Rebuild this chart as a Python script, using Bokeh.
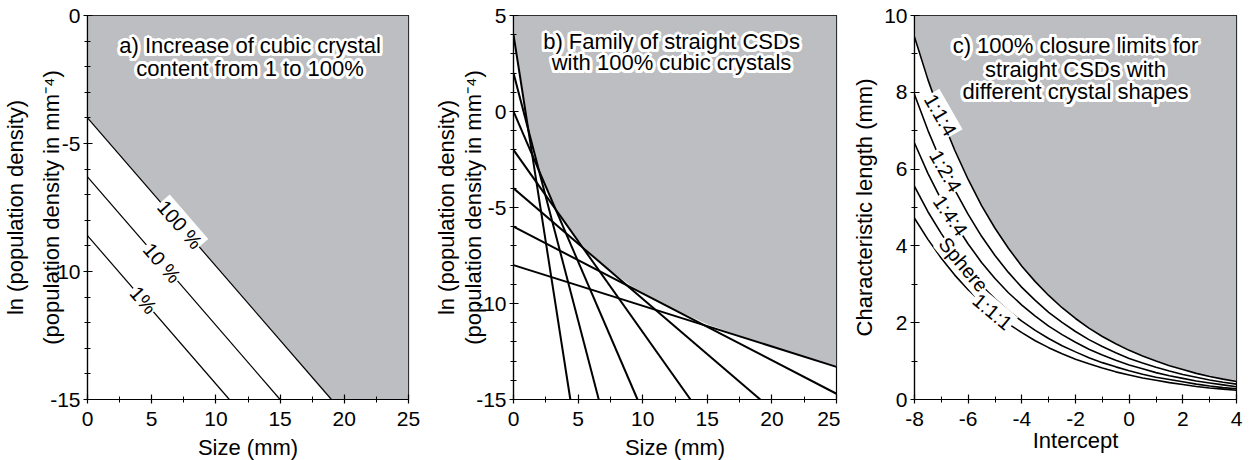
import numpy as np
from bokeh.plotting import figure
from bokeh.models import FixedTicker, Label
from bokeh.layouts import row
from bokeh.embed import file_html
from bokeh.resources import INLINE

FONT = "Liberation Sans"
GRAY = "#bdbec1"
H = 468

# ---------------- data ----------------
# panel a: straight CSDs for 1 %, 10 % and 100 % cubic crystal content
a_pct_labels = ["1%", "10 %", "100 %"]
a_intercepts = [-8.6, -6.3, -4.0]          # ln(n) at size 0
a_end_sizes = [11.05, 15.0, 19.0]           # size where line reaches -15
a_label_sizes = [4.35, 5.8, 7.2]
a_xticks = [0, 5, 10, 15, 20, 25]
a_xminor = [2.5, 7.5, 12.5, 17.5, 22.5]
a_yticks = [0, -5, -10, -15]
a_yminor = list(range(-15, 1))

# panel b: family of straight CSDs with 100 % cubic crystals
b_intercepts = [4, 2, 0, -2, -4, -6, -8]
b_end_sizes = [4.4, 6.6, 9.6, 13.7, 19.1, 25.0, 25.0]
b_end_values = [-15, -15, -15, -15, -15, -14.7, -13.3]
b_env_sizes = [0, 0.94, 1.2, 1.55, 2.0, 2.56, 3.2, 4.21, 5.5, 6.95, 9.0, 11.46, 15.0, 18.89, 25.0]
b_env_values = [4.0, 0.0, -0.98, -2.0, -3.02, -4.0, -4.9, -6.0, -7.07, -8.0, -9.04, -10.0, -11.08, -12.0, -13.3]
b_xticks = [0, 5, 10, 15, 20, 25]
b_xminor = [2.5, 7.5, 12.5, 17.5, 22.5]
b_yticks = [5, 0, -5, -10, -15]
b_yminor = list(range(-15, 6))

# panel c: 100 % closure limits for different crystal shapes
c_intercept = [-8, -7.5, -7, -6.5, -6, -5.5, -5, -4.5, -4, -3.5, -3, -2.5, -2,
               -1.5, -1, -0.5, 0, 0.5, 1, 1.5, 2, 2.5, 3, 3.5, 4]
c_len_114 = [9.44, 8.33, 7.35, 6.49, 5.73, 5.05, 4.46, 3.94, 3.47, 3.07, 2.71, 2.39, 2.11,
             1.86, 1.64, 1.45, 1.28, 1.13, 1.00, 0.88, 0.78, 0.68, 0.60, 0.53, 0.47]
c_len_124 = [7.94, 7.01, 6.18, 5.46, 4.82, 4.25, 3.75, 3.31, 2.92, 2.58, 2.27, 2.01, 1.77,
             1.56, 1.38, 1.22, 1.07, 0.95, 0.84, 0.74, 0.65, 0.58, 0.51, 0.45, 0.40]
c_len_144 = [6.68, 5.89, 5.20, 4.59, 4.05, 3.57, 3.15, 2.78, 2.46, 2.17, 1.91, 1.69, 1.49,
             1.31, 1.16, 1.02, 0.90, 0.80, 0.70, 0.62, 0.55, 0.48, 0.43, 0.38, 0.33]
c_len_sphere = [5.55, 4.89, 4.32, 3.81, 3.36, 2.97, 2.62, 2.31, 2.04, 1.80, 1.59, 1.40, 1.24,
                1.09, 0.96, 0.85, 0.75, 0.66, 0.58, 0.52, 0.46, 0.40, 0.35, 0.31, 0.28]
c_len_111 = [4.72, 4.17, 3.68, 3.24, 2.86, 2.53, 2.23, 1.97, 1.74, 1.53, 1.35, 1.19, 1.05,
             0.93, 0.82, 0.72, 0.64, 0.56, 0.50, 0.44, 0.39, 0.34, 0.30, 0.27, 0.24]
c_shape_labels = ["1:1:4", "1:2:4", "1:4:4", "Sphere", "1:1:1"]
c_label_intercepts = [-7.03, -6.84, -6.66, -6.17, -5.09]
c_label_angles_deg = [-60, -60, -55, -50, -40]
c_xticks = [-8, -6, -4, -2, 0, 2, 4]
c_xminor = list(range(-8, 5))
c_yticks = [0, 2, 4, 6, 8, 10]
c_yminor = list(range(0, 11))


# ---------------- helpers ----------------
def hyphen_labels(ticks):
    return {t: str(t) for t in ticks if t < 0}


def make_fig(width, xr, yr, bl, br, bt, bb, xt, xm, yt, ym, xstand):
    p = figure(width=width, height=H, x_range=xr, y_range=yr,
               output_backend="svg", toolbar_location=None,
               min_border_left=bl, min_border_right=br,
               min_border_top=bt, min_border_bottom=bb)
    p.grid.visible = False
    p.outline_line_color = "black"
    p.outline_line_width = 1.2
    p.background_fill_color = "white"
    p.border_fill_color = "white"
    p.xaxis.ticker = FixedTicker(ticks=xt, minor_ticks=xm)
    p.yaxis.ticker = FixedTicker(ticks=yt, minor_ticks=ym)
    p.xaxis.major_label_overrides = hyphen_labels(xt)
    p.yaxis.major_label_overrides = hyphen_labels(yt)
    for ax in (p.xaxis[0], p.yaxis[0]):
        ax.axis_line_color = "black"
        ax.axis_line_width = 1.2
        ax.major_tick_line_color = "black"
        ax.major_tick_line_width = 1.2
        ax.minor_tick_line_color = "black"
        ax.minor_tick_line_width = 1
        ax.major_tick_in = 5
        ax.major_tick_out = 4
        ax.minor_tick_in = 3
        ax.minor_tick_out = 3
        ax.major_label_text_font = FONT
        ax.major_label_text_font_size = "21px"
        ax.major_label_text_color = "black"
        ax.axis_label_text_font = FONT
        ax.axis_label_text_font_size = "22px"
        ax.axis_label_text_font_style = "normal"
        ax.axis_label_text_color = "black"
    p.xaxis.major_label_standoff = xstand
    p.yaxis.major_label_standoff = 3
    return p


def add_text(p, x, y, text, size="21px", angle=0.0, color="black", bg=None, pad=0,
             xo=0, yo=0):
    kw = dict(x=x, y=y, text=text, angle=angle, text_font=FONT, text_font_size=size,
              text_color=color, text_align="center", text_baseline="middle",
              x_offset=xo, y_offset=yo)
    if bg is not None:
        kw.update(background_fill_color=bg, padding=pad)
    p.add_layout(Label(**kw))


def halo_text(p, x, y, text, size="22px", r=3.0):
    for k in range(16):
        t = 2 * np.pi * k / 16
        add_text(p, x, y, text, size=size, color="white",
                 xo=r * np.cos(t), yo=r * np.sin(t))
    add_text(p, x, y, text, size=size)


# ---------------- panel a ----------------
pa = make_fig(420, (0, 25), (-15, 0), 86, 12, 15, H - 15 - 384,
              a_xticks, a_xminor, a_yticks, a_yminor, 8)
pxa = 322 / 25.0
pya = 384 / 15.0
pa.varea(x=[0, a_end_sizes[-1], 25], y1=[a_intercepts[-1], -15, -15], y2=[0, 0, 0],
         fill_color=GRAY)
for b0, xe in zip(a_intercepts, a_end_sizes):
    pa.line([0, xe], [b0, -15], line_color="black", line_width=1.2)
for lab, b0, xe, xl in zip(a_pct_labels, a_intercepts, a_end_sizes, a_label_sizes):
    s = (-15 - b0) / xe
    ang = np.arctan(s * pya / pxa)
    add_text(pa, xl, b0 + s * xl, lab, size="20px", angle=ang, bg="white", pad=1)
halo_text(pa, 12.66, -1.19, "a) Increase of cubic crystal")
halo_text(pa, 12.66, -2.06, "content from 1 to 100%")
pa.yaxis.axis_label = "ln (population density)\n(population density in mm⁻⁴)"
pa.yaxis.axis_label_text_line_height = 1.44
pa.yaxis.axis_label_standoff = -17
pa.xaxis.axis_label = "Size (mm)"
pa.xaxis.axis_label_standoff = 6

# ---------------- panel b ----------------
pb = make_fig(420, (0, 25), (-15, 5), 93, 4, 15, H - 15 - 384,
              b_xticks, b_xminor, b_yticks, b_yminor, 8)
pb.varea(x=b_env_sizes, y1=b_env_values, y2=[5] * len(b_env_sizes), fill_color=GRAY)
for b0, xe, ye in zip(b_intercepts, b_end_sizes, b_end_values):
    pb.line([0, xe], [b0, ye], line_color="black", line_width=2)
halo_text(pb, 12.23, 3.62, "b) Family of straight CSDs")
halo_text(pb, 12.23, 2.53, "with 100% cubic crystals")
pb.yaxis.axis_label = "ln (population density)\n(population density in mm⁻⁴)"
pb.yaxis.axis_label_text_line_height = 1.08
pb.yaxis.axis_label_standoff = -13
pb.xaxis.axis_label = "Size (mm)"
pb.xaxis.axis_label_standoff = 6

# ---------------- panel c ----------------
pc = make_fig(409, (-8, 4), (0, 10), 74, 13, 15, H - 15 - 389,
              c_xticks, c_xminor, c_yticks, c_yminor, 8)
pc.varea(x=c_intercept, y1=c_len_114, y2=[10] * len(c_intercept), fill_color=GRAY)
curves = [c_len_114, c_len_124, c_len_144, c_len_sphere, c_len_111]
for cv in curves:
    pc.line(c_intercept, cv, line_color="black", line_width=1.6)
for lab, cv, ai, ad in zip(c_shape_labels, curves, c_label_intercepts, c_label_angles_deg):
    yl = float(np.interp(ai, c_intercept, cv))
    add_text(pc, ai, yl, lab, size="20px", angle=np.radians(ad), bg="white", pad=1)
halo_text(pc, -2.0, 9.23, "c) 100% closure limits for")
halo_text(pc, -2.0, 8.60, "straight CSDs with")
halo_text(pc, -2.0, 8.01, "different crystal shapes")
pc.yaxis.axis_label = "Characteristic length (mm)"
pc.yaxis.axis_label_standoff = 4
pc.xaxis.axis_label = "Intercept"
pc.xaxis.axis_label_standoff = -1

layout = row(pa, pb, pc)
open("out.html", "w").write(file_html(layout, INLINE))
